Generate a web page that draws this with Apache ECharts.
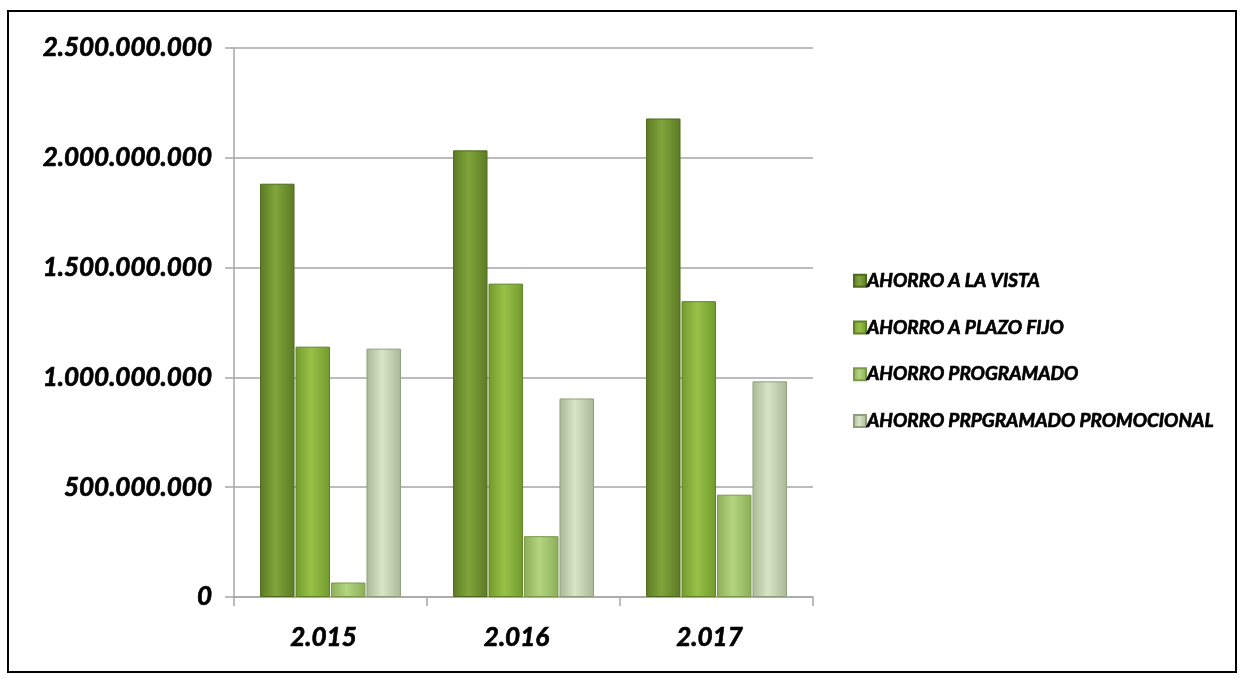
<!DOCTYPE html>
<html>
<head>
<meta charset="utf-8">
<script src="https://cdn.jsdelivr.net/npm/echarts@6/dist/echarts.min.js"></script>
<style>
  html, body { margin: 0; padding: 0; background: #fff; }
  #main { width: 1243px; height: 680px; }
</style>
</head>
<body>
<div id="main"></div>
<script>
// datos
var years = ['2.015', '2.016', '2.017'];
var ahorroVista = [1882000000, 2034000000, 2179000000];
var ahorroPlazoFijo = [1140000000, 1427000000, 1347000000];
var ahorroProgramado = [66000000, 277000000, 466000000];
var ahorroPromocional = [1131000000, 904000000, 982000000];
var seriesNames = ['AHORRO A LA VISTA', 'AHORRO A PLAZO FIJO', 'AHORRO PROGRAMADO', 'AHORRO PRPGRAMADO PROMOCIONAL'];

function fmt(v) {
    return String(v).replace(/\B(?=(\d{3})+(?!\d))/g, '.');
}

// degradado horizontal: bordes oscuros, centro claro
function barColor(edge, mid) {
    return new echarts.graphic.LinearGradient(0, 0, 1, 0, [
        { offset: 0, color: edge },
        { offset: 0.45, color: mid },
        { offset: 1, color: edge }
    ]);
}

var font = 'Lato, "Open Sans", sans-serif';
// texto negrita cursiva, un poco mas grueso con borde
var txt = { fontFamily: font, fontWeight: 'bold', fontStyle: 'italic', color: '#000', textBorderColor: '#000', textBorderWidth: 0.7 };

var myChart = echarts.init(document.getElementById('main'));

function bar(name, data, edge, mid, border) {
    return {
        name: name,
        type: 'bar',
        data: data,
        barGap: '3%',
        barCategoryGap: '27%',
        itemStyle: { color: barColor(edge, mid), borderColor: border, borderWidth: 1 }
    };
}

myChart.setOption({
    animation: false,
    graphic: [{
        type: 'rect',
        shape: { x: 8, y: 11, width: 1228, height: 661 },
        style: { fill: 'none', stroke: '#000', lineWidth: 2 }
    }],
    legend: {
        orient: 'vertical',
        left: 848,
        top: 266,
        itemWidth: 12,
        itemHeight: 12,
        itemGap: 27,
        icon: 'rect',
        textStyle: Object.assign({ fontSize: 19, padding: [0, 0, 0, -4] }, txt),
        data: seriesNames
    },
    grid: { left: 234, right: 430, top: 48, bottom: 83 },
    xAxis: {
        type: 'category',
        data: years,
        axisLine: { lineStyle: { color: '#a6a6a6', width: 1.5 } },
        axisTick: { show: true, length: 9, lineStyle: { color: '#a6a6a6', width: 1.5 } },
        axisLabel: Object.assign({ margin: 28, fontSize: 26, padding: [0, 14, 0, 0] }, txt)
    },
    yAxis: {
        type: 'value',
        min: 0,
        max: 2500000000,
        interval: 500000000,
        axisLine: { show: true, lineStyle: { color: '#a6a6a6', width: 1.5 } },
        axisTick: { show: true, length: 9, lineStyle: { color: '#a6a6a6', width: 1.5 } },
        splitLine: { lineStyle: { color: '#a6a6a6', width: 1.5 } },
        axisLabel: Object.assign({ margin: 22, fontSize: 26, formatter: fmt }, txt)
    },
    series: [
        bar(seriesNames[0], ahorroVista, '#5c7a24', '#80a53b', '#4f6a1e'),
        bar(seriesNames[1], ahorroPlazoFijo, '#729a2d', '#97c247', '#5f8226'),
        bar(seriesNames[2], ahorroProgramado, '#8dae58', '#b4d47e', '#7a9a4a'),
        bar(seriesNames[3], ahorroPromocional, '#aab896', '#d8e6c6', '#8f9e7c')
    ]
});
</script>
</body>
</html>
